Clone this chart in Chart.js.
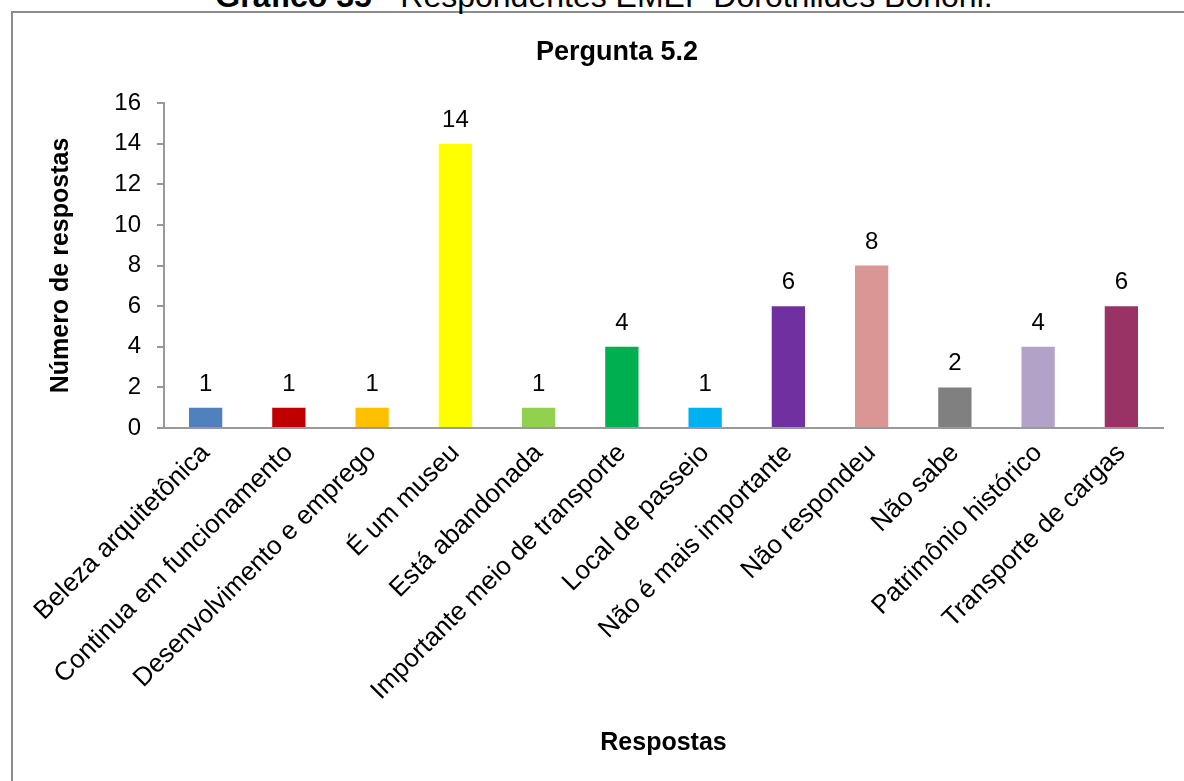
<!DOCTYPE html>
<html>
<head>
<meta charset="utf-8">
<script src="https://cdn.jsdelivr.net/npm/chart.js@4.4.0/dist/chart.umd.min.js"></script>
<style>
  body { margin: 0; background: #fff; overflow: hidden; }
  #wrap { position: relative; width: 1184px; height: 781px; overflow: hidden; }
  #box { position: absolute; left: 11px; top: 11px; width: 1200px; height: 800px; border: 2px solid #8c8c8c; box-sizing: border-box; }
  #topTitle { position: absolute; left: 0; width: 1184px; top: -19px; padding-left: 24px; box-sizing: border-box; text-align: center; font-family: "Liberation Sans", Arial, sans-serif; font-size: 32px; line-height: 31px; color: #000; white-space: nowrap; }
  #chart { position: absolute; left: 0; top: 0; }
</style>
</head>
<body>
<div id="wrap">
  <div id="box"></div>
  <div id="topTitle"><b>Gráfico 35</b> - Respondentes EMEF Dorothildes Bononi.</div>
  <canvas id="chart" width="1184" height="781"></canvas>
</div>
<script>
'use strict'
// dados do grafico
const categorias = ['Beleza arquitetônica', 'Continua em funcionamento', 'Desenvolvimento e emprego', 'É um museu',
    'Está abandonada', 'Importante meio de transporte', 'Local de passeio', 'Não é mais importante',
    'Não respondeu', 'Não sabe', 'Patrimônio histórico', 'Transporte de cargas']
const respostas = [1, 1, 1, 14, 1, 4, 1, 6, 8, 2, 4, 6]
const cores = ['#4F81BD', '#C00000', '#FFC000', '#FFFF00', '#92D050', '#00B050', '#00B0F0', '#7030A0',
    '#D99694', '#808080', '#B3A2C7', '#993366']
const ticksY = [0, 2, 4, 6, 8, 10, 12, 14, 16]

const fonte = '"Liberation Sans", Arial, sans-serif'

// titulo e rotulos de valor
const extras = {
    id: 'extras',
    afterDatasetsDraw(chart) {
        const ctx = chart.ctx
        ctx.save()
        ctx.fillStyle = '#000'
        ctx.textAlign = 'center'
        ctx.textBaseline = 'middle'
        ctx.font = 'bold 27px ' + fonte
        ctx.fillText('Pergunta 5.2', 617, 53)
        ctx.font = '24px ' + fonte
        ctx.textBaseline = 'alphabetic'
        chart.getDatasetMeta(0).data.forEach((bar, i) => {
            ctx.fillText(String(respostas[i]), bar.x, bar.y - 17)
        })
        ctx.restore()
    }
}

const ctx = document.getElementById('chart').getContext('2d')
const myChart = new Chart(ctx, {
    type: 'bar',
    data: {
        labels: categorias,
        datasets: [{
            data: respostas,
            backgroundColor: cores,
            borderWidth: 0,
            categoryPercentage: 1,
            barPercentage: 0.4
        }]
    },
    options: {
        responsive: false,
        animation: false,
        layout: { padding: { top: 103, left: 46, right: 21, bottom: 23 } },
        plugins: { legend: { display: false }, tooltip: { enabled: false } },
        scales: {
            x: {
                grid: { display: false },
                border: { color: '#999', width: 2 },
                ticks: {
                    color: '#000', font: { family: fonte, size: 26 },
                    minRotation: 45, maxRotation: 45, padding: 2, autoSkip: false
                },
                title: {
                    display: true, text: 'Respostas', color: '#000',
                    font: { family: fonte, size: 25, weight: 'bold' }, padding: 0
                },
                afterFit: s => { s.height = 330 }
            },
            y: {
                min: 0, max: 16,
                afterBuildTicks: s => { s.ticks = ticksY.map(v => ({ value: v })) },
                grid: { drawOnChartArea: false, tickLength: 7, color: '#999', lineWidth: 2 },
                border: { color: '#999', width: 2 },
                ticks: { color: '#000', font: { family: fonte, size: 24 }, padding: 16 },
                title: {
                    display: true, text: 'Número de respostas', color: '#000',
                    font: { family: fonte, size: 25, weight: 'bold' }, padding: 0
                },
                afterFit: s => { s.width = 118 }
            }
        }
    },
    plugins: [extras]
})
</script>
</body>
</html>
